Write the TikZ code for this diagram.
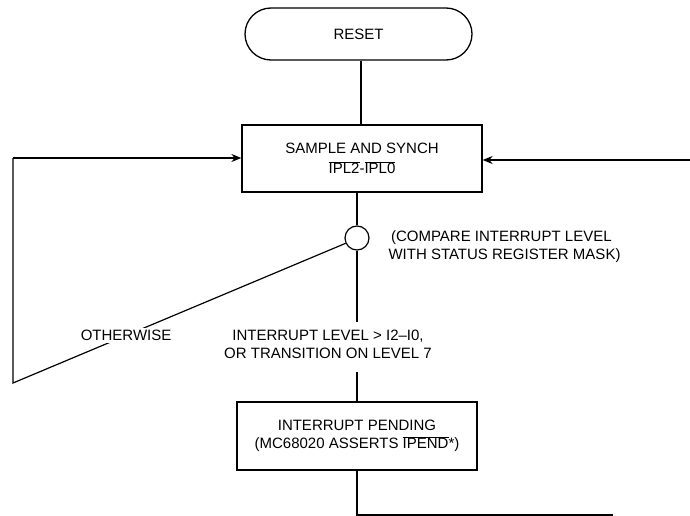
\documentclass[tikz,border=0pt]{standalone}
\usepackage{fontspec}
\setmainfont{Liberation Sans}
\usetikzlibrary{arrows.meta}
\begin{document}
\begin{tikzpicture}[x=1pt,y=-1pt,
  every node/.style={font=\fontsize{15}{18}\selectfont},
  conn/.style={line width=1.2pt},
  arr/.style={conn,-{Stealth[length=10pt,width=8pt]}},
  boxnode/.style={draw,line width=1.3pt,minimum width=240pt,minimum height=67pt,align=center,inner sep=0pt},
  termnode/.style={draw,line width=1.3pt,rounded corners=26pt,minimum width=227pt,minimum height=52pt,inner sep=0pt},
  junction/.style={draw,line width=1.2pt,circle,minimum size=24pt,inner sep=0pt},
  lbl/.style={fill=white,inner sep=2pt,align=center}]
\useasboundingbox (0,0) rectangle (690,516);
\node[termnode] (reset) at (358.5,34) {RESET};
\node[boxnode] (sample) at (362,158.5) {SAMPLE AND SYNCH\\[2pt]$\overline{\mbox{IPL2}}$-$\overline{\mbox{IPL0}}$};
\node[junction] (cmp) at (357,238) {};
\node[anchor=west,align=left] (cmptxt) at (385,247) {\,(COMPARE INTERRUPT LEVEL\\WITH STATUS REGISTER MASK)};
\node[boxnode,minimum height=68pt] (pend) at (357,436) {INTERRUPT PENDING\\(MC68020 ASSERTS $\overline{\mbox{IPEND}}$*)};
\node[align=center] (cond) at (328,344) {INTERRUPT LEVEL > I2--I0,\\OR TRANSITION ON LEVEL 7};
\coordinate (ll) at (13,383);
\coordinate (lt) at (13,158);
\coordinate (rin) at (690,160);
\coordinate (c1) at (357,322);
\coordinate (c2) at (357,372);
\coordinate (b1) at (357,515);
\coordinate (b2) at (613,515);
\draw[conn] (reset.south -| sample.north) ++(-1,0) -- ++(0,65);
\draw[conn] (sample.south -| cmp.north) -- (cmp.north);
\draw[conn] (cmp.south) -- (c1);
\draw[conn] (c2) -- (pend.north -| c2);
\draw[conn] (cmp.205) -- node[lbl,pos=0.66] (oth) {OTHERWISE} (ll) -- (lt);
\draw[arr] (lt) -- (lt -| sample.west);
\draw[arr] (rin) -- (rin -| sample.east);
\draw[conn] (pend.south) -- (b1) -- (b2);
\end{tikzpicture}
\end{document}
